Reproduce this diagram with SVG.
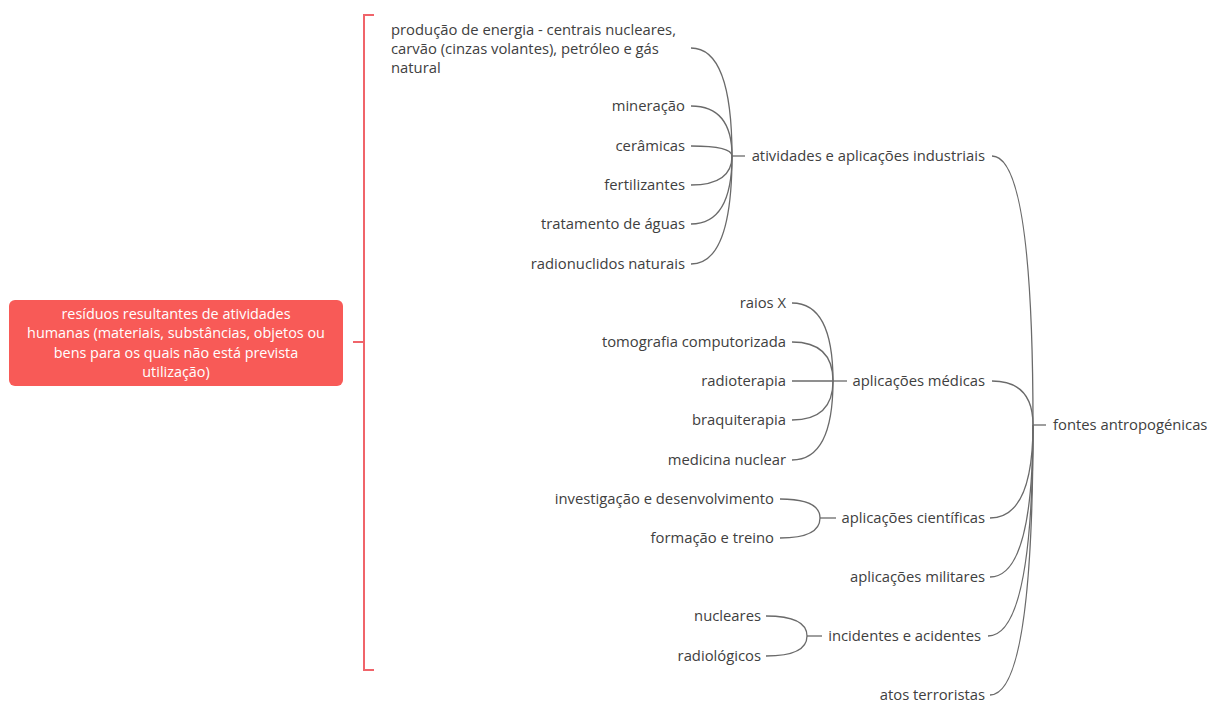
<svg xmlns="http://www.w3.org/2000/svg" width="1207" height="716" viewBox="0 0 1207 716">
<style>
  .t { font-family: "Open Sans", "Noto Sans", sans-serif; font-size: 14.8px; fill: #404040; }
  .e { text-anchor: end; }
  .w { font-family: "Open Sans", "Noto Sans", sans-serif; font-size: 14.4px; fill: #ffffff; text-anchor: middle; }
  .c { fill: none; stroke: #6a6a6a; stroke-width: 1.3; }
  .r { fill: none; stroke: #f0646a; stroke-width: 2; }
</style>
<rect width="1207" height="716" fill="#ffffff"/>

<g id="connectors">
  <!-- root bracket -->
  <path class="r" d="M353 342 H364 M374 15 H364 V670 H374"/>
  <!-- fontes antropogénicas -->
  <path class="c" d="M1033 425 H1046"/>
  <path class="c" d="M992 156 Q1033 156 1033 425"/>
  <path class="c" d="M992 381 Q1033 381 1033 425"/>
  <path class="c" d="M990 518 Q1033 518 1033 425"/>
  <path class="c" d="M990 577 Q1033 577 1033 425"/>
  <path class="c" d="M988 636 Q1033 636 1033 425"/>
  <path class="c" d="M990 695 Q1033 695 1033 425"/>
  <!-- industrial -->
  <path class="c" d="M732 156 H745"/>
  <path class="c" d="M691 48 Q732 48 732 156"/>
  <path class="c" d="M691 106 Q732 106 732 156"/>
  <path class="c" d="M691 146 Q732 146 732 156"/>
  <path class="c" d="M691 185 Q732 185 732 156"/>
  <path class="c" d="M691 224 Q732 224 732 156"/>
  <path class="c" d="M691 264 Q732 264 732 156"/>
  <!-- medical -->
  <path class="c" d="M833 381 H847"/>
  <path class="c" d="M792 303 Q833 303 833 381"/>
  <path class="c" d="M792 342 Q833 342 833 381"/>
  <path class="c" d="M792 381 H833"/>
  <path class="c" d="M792 420 Q833 420 833 381"/>
  <path class="c" d="M792 460 Q833 460 833 381"/>
  <!-- científicas -->
  <path class="c" d="M820 518 H836"/>
  <path class="c" d="M780 499 Q820 499 820 518"/>
  <path class="c" d="M780 538 Q820 538 820 518"/>
  <!-- incidentes -->
  <path class="c" d="M807 636 H822"/>
  <path class="c" d="M766 616 Q807 616 807 636"/>
  <path class="c" d="M766 656 Q807 656 807 636"/>
</g>

<g id="root">
  <rect x="9" y="300" width="334" height="86" rx="6" fill="#f85a57"/>
  <text class="w" x="176" y="319">resíduos resultantes de atividades</text>
  <text class="w" x="176" y="338">humanas (materiais, substâncias, objetos ou</text>
  <text class="w" x="176" y="358">bens para os quais não está prevista</text>
  <text class="w" x="176" y="377">utilização)</text>
</g>

<g id="fontes"><text class="t" x="1053" y="430">fontes antropogénicas</text></g>

<g id="industriais"><text class="t e" x="985" y="161">atividades e aplicações industriais</text></g>
<g id="producao">
  <text class="t" x="391" y="35">produção de energia - centrais nucleares,</text>
  <text class="t" x="391" y="54">carvão (cinzas volantes), petróleo e gás</text>
  <text class="t" x="391" y="73">natural</text>
</g>
<g id="mineracao"><text class="t e" x="685" y="111">mineração</text></g>
<g id="ceramicas"><text class="t e" x="685" y="151">cerâmicas</text></g>
<g id="fertilizantes"><text class="t e" x="685" y="190">fertilizantes</text></g>
<g id="tratamento"><text class="t e" x="685" y="229">tratamento de águas</text></g>
<g id="radionuclidos"><text class="t e" x="685" y="269">radionuclidos naturais</text></g>

<g id="medicas"><text class="t e" x="985" y="386">aplicações médicas</text></g>
<g id="raiosx"><text class="t e" x="786" y="308">raios X</text></g>
<g id="tomografia"><text class="t e" x="786" y="347">tomografia computorizada</text></g>
<g id="radioterapia"><text class="t e" x="786" y="386">radioterapia</text></g>
<g id="braquiterapia"><text class="t e" x="786" y="425">braquiterapia</text></g>
<g id="medicina"><text class="t e" x="786" y="465">medicina nuclear</text></g>

<g id="cientificas"><text class="t e" x="985" y="523">aplicações científicas</text></g>
<g id="investigacao"><text class="t e" x="774" y="504">investigação e desenvolvimento</text></g>
<g id="formacao"><text class="t e" x="774" y="543">formação e treino</text></g>

<g id="militares"><text class="t e" x="985" y="582">aplicações militares</text></g>

<g id="incidentes"><text class="t e" x="981" y="641">incidentes e acidentes</text></g>
<g id="nucleares"><text class="t e" x="761" y="621">nucleares</text></g>
<g id="radiologicos"><text class="t e" x="761" y="661">radiológicos</text></g>

<g id="terroristas"><text class="t e" x="985" y="700">atos terroristas</text></g>
</svg>
